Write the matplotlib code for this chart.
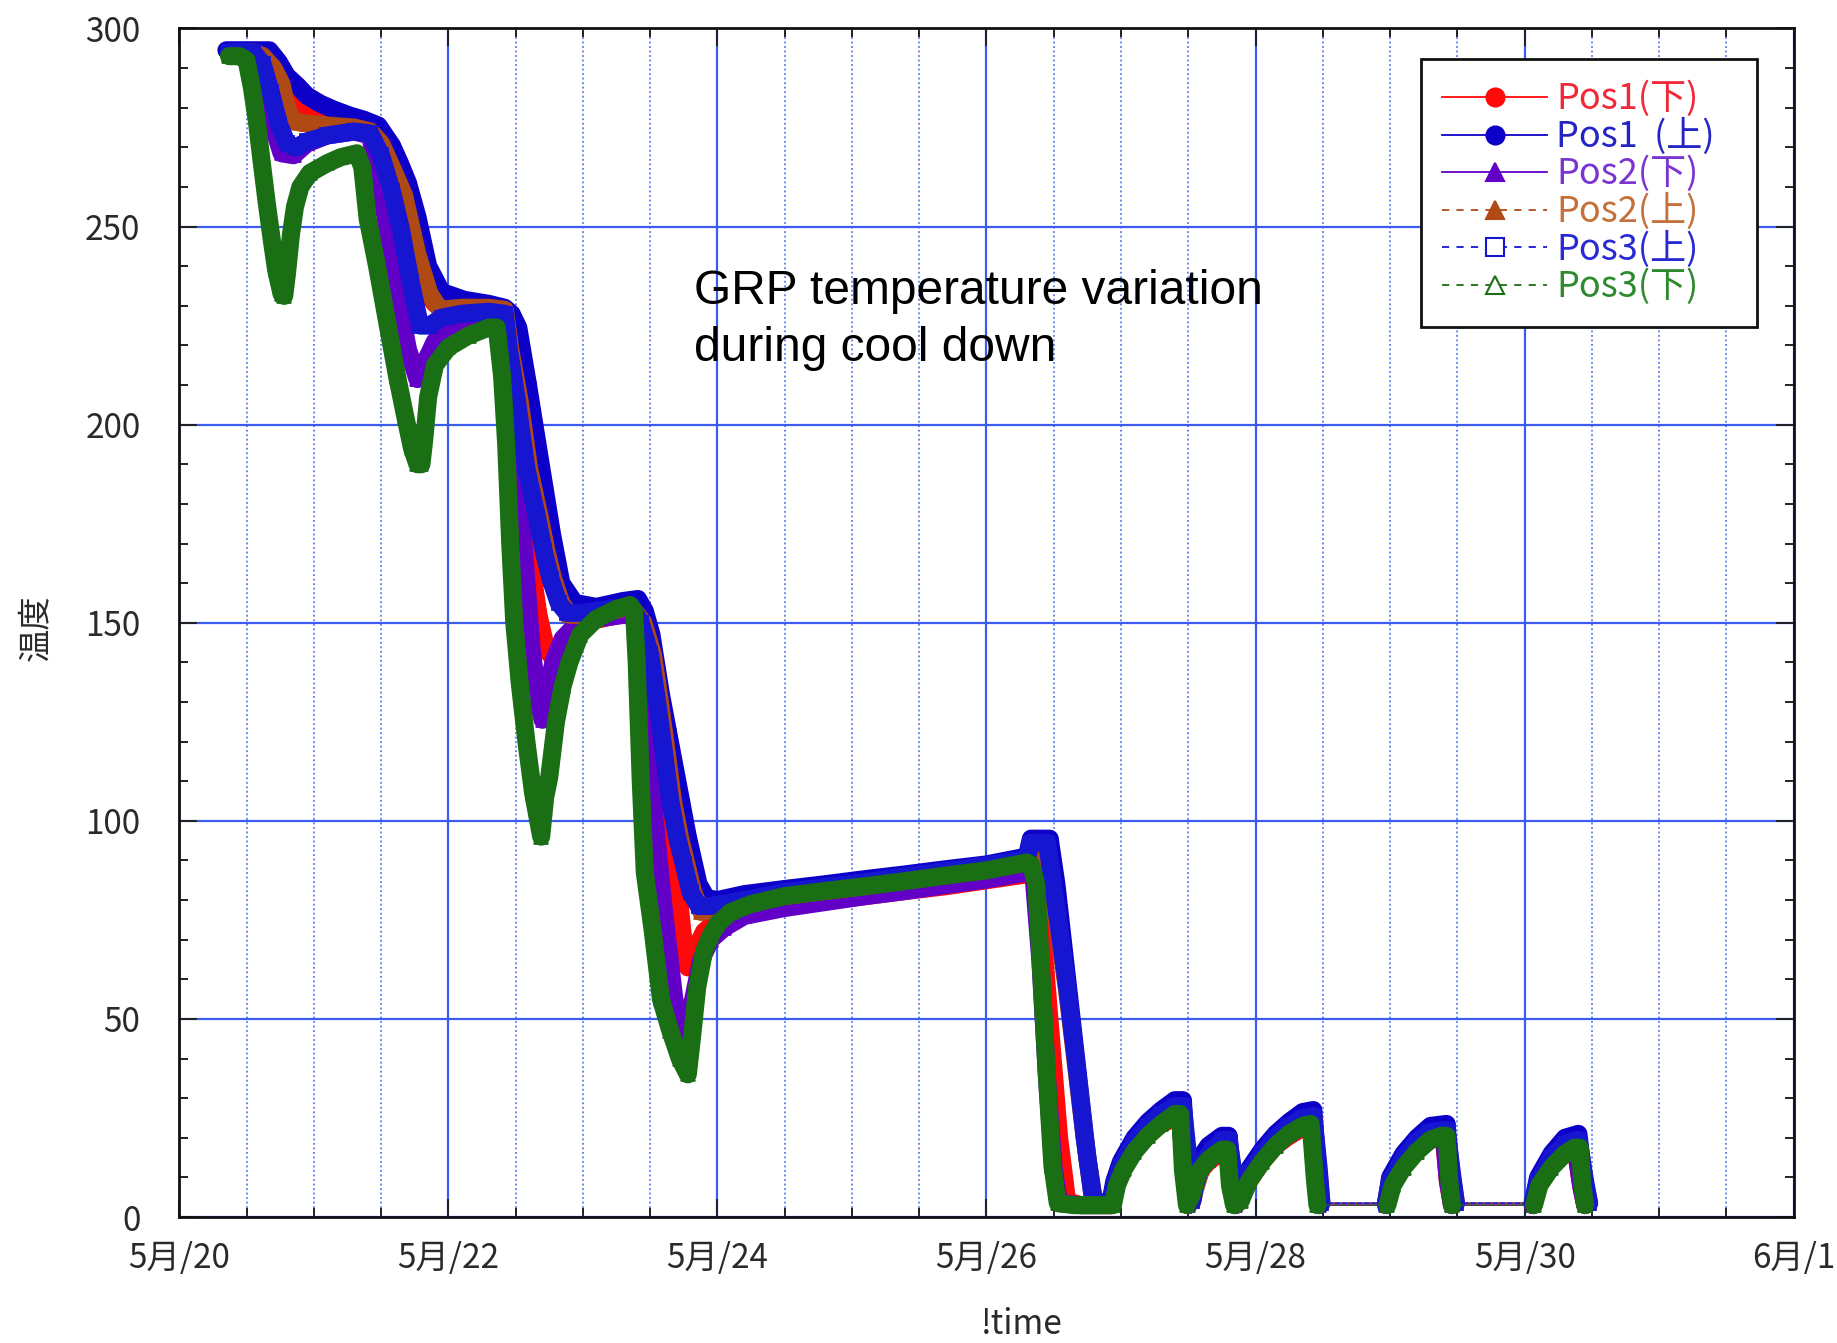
"""
GRP temperature log during cool down.
Six gauges (Pos1-Pos3, upper/lower) plotted against elapsed days from 5/20.
"""

import matplotlib
matplotlib.use("Agg")

from datetime import datetime, timedelta

import matplotlib.pyplot as plt
import numpy as np
from matplotlib.lines import Line2D
from matplotlib.ticker import FuncFormatter, MultipleLocator

plt.rcParams["font.family"] = ["Noto Sans CJK JP", "DejaVu Sans"]

START = datetime(2010, 5, 20)

# (days after 5/20 00:00, temperature)
pos1_low = [
    (0.37, 293.5), (0.5, 293.5), (0.58, 292), (0.65, 289), (0.72, 286), (0.8, 283), (0.9, 280.5),
    (1.0, 279), (1.2, 277), (1.4, 275.5), (1.5, 274), (1.58, 268), (1.66, 256), (1.74, 243),
    (1.82, 234), (1.9, 230.5), (2.05, 229.5), (2.25, 229), (2.42, 228), (2.47, 215), (2.53, 190),
    (2.6, 168), (2.67, 152), (2.73, 143), (2.77, 141.5), (2.83, 144), (2.9, 147.5), (3.0, 150),
    (3.2, 151.5), (3.36, 152.5), (3.42, 151), (3.5, 135), (3.57, 118), (3.63, 103), (3.7, 85),
    (3.74, 72), (3.78, 63), (3.83, 67), (3.9, 72), (4.0, 75), (4.2, 77), (4.5, 78.5), (4.8, 79.8),
    (5.1, 81), (5.4, 82.3), (5.7, 83.5), (6.0, 85), (6.3, 86.5), (6.36, 86), (6.42, 70), (6.48, 45),
    (6.54, 20), (6.6, 4), (6.7, 3), (6.8, 3),
    (6.93, 3), (6.96, 8), (7.0, 12), (7.1, 17), (7.2, 21), (7.3, 23.5), (7.4, 25), (7.44, 25),
    (7.47, 12), (7.5, 3),
    (7.53, 6), (7.57, 11), (7.65, 14), (7.75, 16.5), (7.79, 16.5), (7.82, 8), (7.85, 3),
    (7.88, 4), (7.95, 9), (8.05, 14), (8.15, 18), (8.25, 20.5), (8.35, 22.5), (8.42, 23), (8.45, 10),
    (8.47, 3),
    (8.97, 3), (9.0, 8), (9.1, 13), (9.2, 17), (9.3, 19.5), (9.4, 20), (9.43, 9), (9.46, 3),
    (10.06, 3), (10.1, 8), (10.2, 13), (10.3, 16.5), (10.38, 17), (10.42, 8), (10.45, 3),
]

pos1_up = [
    (0.35, 294.5), (0.5, 294.5), (0.67, 294.5), (0.74, 291.5), (0.8, 288), (0.88, 285.5), (0.95, 283),
    (1.05, 281), (1.15, 279.5), (1.27, 278), (1.37, 277), (1.48, 275.5), (1.58, 270.5), (1.64, 266),
    (1.7, 261), (1.77, 252.5), (1.85, 240), (1.95, 233.5), (2.12, 231.5), (2.3, 230.5), (2.42, 229.5),
    (2.47, 228), (2.52, 224.5), (2.59, 210.5), (2.67, 193.5), (2.77, 172.5), (2.84, 160), (2.94, 155),
    (3.1, 154), (3.3, 155.5), (3.41, 156), (3.46, 153), (3.51, 147), (3.58, 132), (3.63, 123),
    (3.68, 114), (3.73, 105), (3.78, 96), (3.82, 90), (3.86, 84), (3.92, 80.5), (4.0, 80), (4.2, 81.5),
    (4.5, 82.8), (4.8, 84), (5.1, 85.3), (5.4, 86.5), (5.7, 87.8), (6.0, 89), (6.3, 91), (6.33, 95.5),
    (6.4, 95.5), (6.47, 95.5), (6.52, 84), (6.6, 60), (6.68, 36), (6.75, 15), (6.8, 4), (6.86, 3.5),
    (6.92, 3.5), (6.95, 9), (7.0, 14), (7.1, 20), (7.2, 24), (7.3, 27), (7.4, 29.5), (7.46, 29.5),
    (7.49, 14), (7.51, 4),
    (7.53, 8), (7.57, 14), (7.65, 18), (7.75, 20.5), (7.8, 20.5), (7.83, 10), (7.86, 5),
    (7.88, 6), (7.95, 12), (8.05, 17), (8.15, 21), (8.25, 24), (8.35, 26.5), (8.43, 27), (8.46, 12),
    (8.48, 3.5),
    (8.97, 3.5), (9.0, 10), (9.1, 16), (9.2, 20), (9.3, 23), (9.42, 23.5), (9.45, 12), (9.48, 3.5),
    (10.06, 3.5), (10.1, 10), (10.2, 16), (10.3, 20), (10.4, 21), (10.44, 10), (10.47, 3.5),
]

pos2_low = [
    (0.37, 293.5), (0.5, 293.5), (0.55, 292), (0.62, 285), (0.7, 275), (0.76, 268.5), (0.85, 268),
    (0.95, 271), (1.1, 273), (1.3, 274), (1.42, 273), (1.47, 263), (1.53, 253), (1.61, 235), (1.7, 219),
    (1.77, 211.5), (1.83, 216), (1.9, 221), (2.0, 224), (2.2, 225.5), (2.36, 226), (2.42, 219),
    (2.47, 203), (2.52, 185), (2.57, 165), (2.62, 143), (2.67, 130), (2.7, 125.5), (2.74, 133),
    (2.78, 140), (2.85, 146), (2.95, 149.5), (3.1, 151), (3.3, 152), (3.38, 152), (3.41, 147),
    (3.45, 132), (3.52, 105), (3.6, 78), (3.68, 55), (3.76, 44), (3.82, 55), (3.88, 65), (3.95, 70),
    (4.05, 73), (4.2, 76), (4.5, 78), (4.8, 79.5), (5.1, 81), (5.4, 82.3), (5.7, 83.8), (6.0, 85.2),
    (6.3, 87), (6.35, 86), (6.4, 65), (6.45, 35), (6.5, 12), (6.54, 3.5), (6.7, 3), (6.8, 3),
    (6.93, 3), (6.96, 8.5), (7.0, 12.5), (7.1, 17.5), (7.2, 21.5), (7.3, 24), (7.4, 25.5), (7.44, 25.5),
    (7.47, 12), (7.5, 3),
    (7.53, 6), (7.57, 11.5), (7.65, 14.5), (7.75, 17), (7.79, 17), (7.82, 8), (7.85, 3),
    (7.88, 4), (7.95, 9.5), (8.05, 14.5), (8.15, 18.5), (8.25, 21), (8.35, 23), (8.42, 23.5),
    (8.45, 10), (8.47, 3),
    (8.97, 3), (9.0, 8.5), (9.1, 13.5), (9.2, 17.5), (9.3, 20), (9.4, 20.5), (9.43, 9), (9.46, 3),
    (10.06, 3), (10.1, 8.5), (10.2, 13.5), (10.3, 17), (10.38, 17.5), (10.42, 8), (10.45, 3),
]

pos2_up = [
    (0.37, 293.5), (0.55, 294), (0.62, 293), (0.7, 290), (0.76, 286), (0.8, 280), (0.85, 276.5),
    (0.95, 276), (1.1, 275.5), (1.3, 275), (1.42, 274), (1.5, 271), (1.58, 265), (1.67, 258),
    (1.77, 243), (1.86, 233), (1.94, 229), (2.1, 229.5), (2.3, 229.5), (2.42, 229), (2.46, 219),
    (2.53, 206), (2.6, 189), (2.68, 176.5), (2.73, 168), (2.78, 161), (2.84, 155), (2.9, 152),
    (3.0, 152), (3.2, 153), (3.36, 154), (3.45, 150), (3.52, 142), (3.57, 130.5), (3.62, 118),
    (3.67, 105), (3.72, 96), (3.77, 89), (3.82, 82), (3.88, 77), (3.95, 77.5), (4.2, 79.5), (4.5, 81),
    (4.8, 82.3), (5.1, 83.5), (5.4, 85), (5.7, 86.3), (6.0, 87.8), (6.3, 89.5), (6.35, 90.5),
    (6.45, 90), (6.52, 76), (6.6, 57), (6.67, 37), (6.73, 20), (6.79, 5), (6.85, 3.5),
    (6.93, 3.5), (6.96, 8), (7.0, 12), (7.1, 18), (7.2, 22), (7.3, 25), (7.4, 27), (7.45, 27),
    (7.5, 14), (7.53, 4),
    (7.55, 7), (7.6, 12.5), (7.68, 16), (7.76, 18.5), (7.8, 18.5), (7.84, 9), (7.87, 4),
    (7.89, 5), (7.95, 10), (8.05, 15), (8.15, 19), (8.25, 22), (8.35, 24), (8.43, 25), (8.47, 11),
    (8.49, 3.5),
    (8.97, 3.5), (9.0, 8.5), (9.1, 14), (9.2, 18), (9.3, 21), (9.42, 21.5), (9.46, 10), (9.49, 3.5),
    (10.06, 3.5), (10.1, 8.5), (10.2, 14), (10.3, 18), (10.4, 19), (10.45, 8), (10.48, 3.5),
]

pos3_up = [
    (0.37, 294), (0.55, 294), (0.62, 291), (0.68, 284), (0.74, 276), (0.8, 271), (0.87, 270),
    (0.95, 271.5), (1.1, 273), (1.3, 274), (1.42, 273.5), (1.5, 268), (1.58, 259), (1.65, 249),
    (1.72, 236), (1.79, 225), (1.86, 225), (1.95, 227), (2.1, 228), (2.3, 228.5), (2.42, 228),
    (2.45, 219), (2.51, 206), (2.58, 189), (2.66, 176.5), (2.71, 168), (2.76, 161), (2.82, 155),
    (2.88, 152.5), (3.0, 152.5), (3.2, 153.5), (3.36, 154), (3.43, 150), (3.5, 142), (3.55, 130.5),
    (3.6, 118), (3.65, 105), (3.7, 96), (3.75, 89), (3.8, 82), (3.86, 78.5), (3.95, 78.5), (4.2, 80),
    (4.5, 82), (4.8, 83.3), (5.1, 84.5), (5.4, 86), (5.7, 87.3), (6.0, 88.8), (6.3, 90.3),
    (6.33, 94.5), (6.45, 94.5), (6.52, 78), (6.6, 58), (6.67, 38), (6.73, 20), (6.79, 5), (6.85, 3.5),
    (6.92, 3.5), (6.95, 8), (7.0, 13), (7.1, 19), (7.2, 23), (7.3, 26), (7.4, 28), (7.46, 28),
    (7.5, 15), (7.53, 4),
    (7.55, 8), (7.6, 13.5), (7.68, 17), (7.76, 19.5), (7.8, 19.5), (7.84, 10), (7.87, 4),
    (7.89, 5), (7.95, 11), (8.05, 16), (8.15, 20), (8.25, 23), (8.35, 25), (8.43, 25.5), (8.47, 12),
    (8.49, 3.5),
    (8.97, 3.5), (9.0, 9), (9.1, 15), (9.2, 19), (9.3, 21.5), (9.42, 22), (9.46, 11), (9.49, 3.5),
    (10.06, 3.5), (10.1, 9), (10.2, 15), (10.3, 18.5), (10.4, 19.5), (10.45, 9), (10.48, 3.5),
]

pos3_low = [
    (0.37, 293), (0.45, 293), (0.5, 292), (0.54, 285), (0.575, 277), (0.61, 267), (0.65, 256),
    (0.69, 246), (0.72, 239), (0.76, 233), (0.78, 232.5), (0.8, 238), (0.83, 248), (0.86, 255),
    (0.9, 260), (0.97, 263.5), (1.1, 266), (1.2, 267.5), (1.32, 268.5), (1.36, 265), (1.4, 252),
    (1.47, 240), (1.55, 225), (1.62, 212), (1.68, 202), (1.73, 194), (1.77, 190), (1.8, 190),
    (1.82, 196), (1.85, 207), (1.9, 215), (2.0, 219.5), (2.15, 222.5), (2.3, 224.5), (2.36, 224.5),
    (2.4, 212), (2.43, 195), (2.46, 170), (2.49, 150), (2.53, 135), (2.58, 120), (2.63, 107),
    (2.69, 96), (2.72, 106), (2.75, 111), (2.8, 125), (2.85, 134), (2.9, 140), (2.98, 147),
    (3.1, 151), (3.25, 153.5), (3.35, 154.5), (3.38, 153), (3.4, 140), (3.43, 110), (3.46, 87),
    (3.52, 72), (3.58, 55), (3.65, 47), (3.72, 40), (3.78, 36), (3.81, 45), (3.85, 58), (3.9, 67),
    (3.95, 71), (4.0, 74), (4.1, 77), (4.25, 79), (4.5, 81), (4.8, 82.3), (5.1, 83.5), (5.4, 84.8),
    (5.7, 86.2), (6.0, 87.5), (6.3, 89.5), (6.33, 89), (6.37, 84), (6.41, 60), (6.45, 35),
    (6.49, 13), (6.53, 3.5), (6.65, 3), (6.8, 3),
    (6.94, 3), (6.97, 8), (7.02, 12), (7.1, 16.5), (7.2, 20.5), (7.3, 23.5), (7.4, 26), (7.44, 26),
    (7.46, 12), (7.49, 3),
    (7.53, 6), (7.57, 11), (7.65, 14.5), (7.75, 17), (7.79, 17), (7.81, 8), (7.84, 3),
    (7.89, 4), (7.95, 9), (8.05, 14), (8.15, 18), (8.25, 21), (8.35, 23), (8.41, 23.5), (8.44, 10),
    (8.46, 3),
    (8.98, 3), (9.02, 8), (9.1, 12.5), (9.2, 16.5), (9.3, 19.5), (9.38, 20.5), (9.42, 20.5),
    (9.44, 9), (9.46, 3),
    (10.07, 3), (10.11, 8), (10.2, 12.5), (10.3, 16), (10.37, 17.5), (10.41, 17.5), (10.43, 8),
    (10.45, 3),
]

# label, data, line colour, label colour, linestyle, marker, filled
SERIES = [
    ("Pos1(下)", pos1_low, "#ff0a0a", "#f02838", "-", "o", True),
    ("Pos1  (上)", pos1_up, "#0c00c8", "#2424c4", "-", "o", True),
    ("Pos2(下)", pos2_low, "#6200c8", "#7a34d0", "-", "^", True),
    ("Pos2(上)", pos2_up, "#b04a14", "#c4703a", "--", "^", True),
    ("Pos3(上)", pos3_up, "#1616d0", "#2a2ad4", "--", "s", False),
    ("Pos3(下)", pos3_low, "#1a6e14", "#2e8a2e", "--", "^", False),
]

BAND_LW = 13        # dense logging makes each trace a solid ribbon
MARKER_SIZE = 10.5
GAP_DAYS = 0.4      # no logging between the later cycles


def split_runs(t, v):
    """Split a trace wherever the logger stopped for a while."""
    breaks = np.where(np.diff(t) > GAP_DAYS)[0] + 1
    return zip(np.split(t, breaks), np.split(v, breaks))


def date_label(x, pos):
    d = START + timedelta(days=x)
    return f"{d.month}月/{d.day}"


fig = plt.figure(figsize=(18.37, 13.43), dpi=100)
ax = fig.add_axes([0.0976, 0.0938, 0.8788, 0.885])

handles = []
for i, (label, data, color, text_color, ls, marker, filled) in enumerate(SERIES):
    t = np.array([p[0] for p in data])
    v = np.array([p[1] for p in data])
    z = 3 + i
    for tt, vv in split_runs(t, v):
        ax.plot(tt, vv, color=color, lw=BAND_LW, solid_capstyle="round",
                solid_joinstyle="round", zorder=z)
    ax.plot(t, v, color=color, lw=1.0, ls=ls, zorder=z + 0.1)
    ax.plot(t, v, ls="none", marker=marker, ms=MARKER_SIZE,
            mfc=color if filled else "none", mec=color, mew=1.3, zorder=z + 0.2)
    handles.append(Line2D([], [], color=color, lw=1.3,
                          ls="-" if ls == "-" else (0, (4, 4)),
                          marker=marker, ms=13, mew=1.5,
                          mfc=color if filled else "white", mec=color))

ax.set_xlim(0, 12)
ax.set_ylim(0, 300)
ax.xaxis.set_major_locator(MultipleLocator(2))
ax.xaxis.set_minor_locator(MultipleLocator(0.5))
ax.xaxis.set_major_formatter(FuncFormatter(date_label))
ax.yaxis.set_major_locator(MultipleLocator(50))
ax.yaxis.set_minor_locator(MultipleLocator(10))

ax.grid(which="major", color="#3a5cf0", lw=1.6, zorder=1)
ax.xaxis.grid(which="minor", color="#5a7af2", lw=1.3, ls=(0, (1, 1.5)), zorder=1)
ax.set_axisbelow(True)

ax.tick_params(which="both", direction="in", top=True, right=True,
               color="#222222", width=1.4, labelsize=24, labelcolor="#2a2a2a")
ax.tick_params(which="major", length=13)
ax.tick_params(which="minor", length=6.5)
ax.tick_params(axis="y", pad=28)
ax.tick_params(axis="x", pad=17)
for spine in ax.spines.values():
    spine.set_linewidth(2)
    spine.set_color("#111111")

ax.set_xlabel("!time", fontsize=24, color="#2a2a2a")
ax.xaxis.set_label_coords(0.522, -0.076)
ax.set_ylabel("温度", fontsize=24, color="#2a2a2a")
ax.yaxis.set_label_coords(-0.078, 0.496)

ax.text(0.319, 0.798, "GRP temperature variation\nduring cool down",
        transform=ax.transAxes, fontsize=34.5, family="Liberation Sans",
        ha="left", va="top", linespacing=1.36, zorder=20)

# frame stretched over a fixed box in the upper right corner
leg = ax.legend(handles, [s[0] for s in SERIES], loc="upper left",
                bbox_to_anchor=(0.769, 0.0, 0.208, 0.974), mode="expand",
                borderaxespad=0, fontsize=26,
                frameon=True, fancybox=False, framealpha=1, edgecolor="#111111",
                handlelength=2.9, handletextpad=0.25, labelspacing=0.02,
                borderpad=0.6)
leg.get_frame().set_linewidth(2)
leg.set_zorder(30)
for txt, s in zip(leg.get_texts(), SERIES):
    txt.set_color(s[3])

fig.savefig("out.png", dpi=100, facecolor="white")
